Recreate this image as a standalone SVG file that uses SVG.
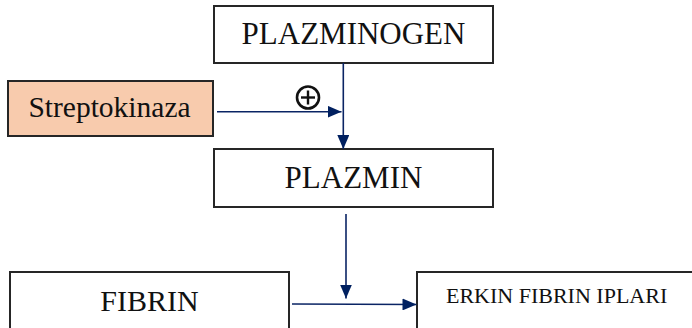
<svg xmlns="http://www.w3.org/2000/svg" width="692" height="328" viewBox="0 0 692 328">
<defs>
<style>
.box{fill:#ffffff;stroke:#262626;stroke-width:2}
.lbl{font-family:"Liberation Serif","Times New Roman",serif;fill:#111111;text-anchor:middle}
.con{stroke:#0a2464;stroke-width:1.6;fill:none}
</style>
<marker id="ah" markerWidth="14" markerHeight="12" viewBox="0 0 14 12" refX="14" refY="6" orient="auto" markerUnits="userSpaceOnUse">
<path d="M0,0 L14,6 L0,12 Z" fill="#002060"/>
</marker>
</defs>
<rect width="692" height="328" fill="#ffffff"/>
<g id="plazminogen">
<rect class="box" x="214" y="6" width="279" height="57"/>
<text class="lbl" x="353.5" y="44" font-size="31">PLAZMINOGEN</text>
</g>
<g id="streptokinaza">
<rect class="box" x="8" y="81" width="205" height="55" style="fill:#F8CBAD"/>
<text class="lbl" x="109.5" y="117" font-size="29.5">Streptokinaza</text>
</g>
<g id="plazmin">
<rect class="box" x="214" y="149" width="279" height="58"/>
<text class="lbl" x="353.5" y="188" font-size="31">PLAZMIN</text>
</g>
<g id="fibrin">
<rect class="box" x="10" y="272" width="279" height="70"/>
<text class="lbl" x="149.5" y="311" font-size="30">FIBRIN</text>
</g>
<g id="erkin">
<rect class="box" x="417" y="272" width="290" height="70"/>
<text class="lbl" x="446" y="303" font-size="22" style="text-anchor:start">ERKIN FIBRIN IPLARI</text>
</g>
<g id="connectors">
<line class="con" x1="343.3" y1="63" x2="343.3" y2="149" marker-end="url(#ah)"/>
<line class="con" x1="217" y1="111.7" x2="341.5" y2="111.7" marker-end="url(#ah)"/>
<line class="con" x1="346" y1="214" x2="346" y2="298.5" marker-end="url(#ah)"/>
<line class="con" x1="292" y1="304" x2="416.5" y2="304.5" marker-end="url(#ah)"/>
<g id="plus">
<circle cx="308" cy="97.5" r="11" fill="none" stroke="#111111" stroke-width="2.6"/>
<line x1="301" y1="97.5" x2="315" y2="97.5" stroke="#111111" stroke-width="2.4"/>
<line x1="308" y1="90.5" x2="308" y2="104.5" stroke="#111111" stroke-width="2.4"/>
</g>
</g>
</svg>
